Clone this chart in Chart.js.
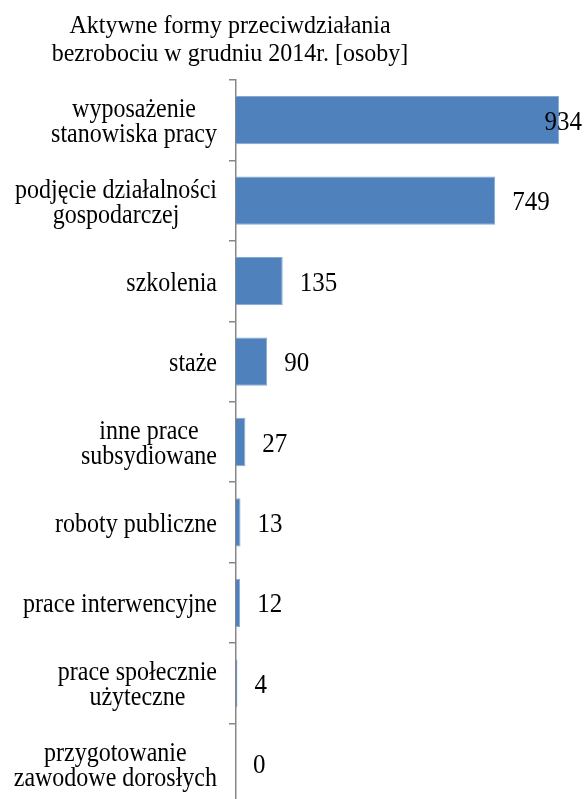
<!DOCTYPE html>
<html>
<head>
<meta charset="utf-8">
<script src="https://cdn.jsdelivr.net/npm/chart.js@4.4.1/dist/chart.umd.min.js"></script>
<style>
  html, body { margin: 0; padding: 0; background: #fff; overflow: hidden; }
  #wrap { width: 587px; height: 804px; position: relative; }
</style>
</head>
<body>
<div id="wrap"><canvas id="c"></canvas></div>
<script>
// ---------- data ----------
var titleLines = ['Aktywne formy przeciwdziałania', 'bezrobociu w grudniu 2014r. [osoby]'];
var categories = [
  ['wyposażenie', 'stanowiska pracy'],
  ['podjęcie działalności', 'gospodarczej'],
  ['szkolenia'],
  ['staże'],
  ['inne prace', 'subsydiowane'],
  ['roboty publiczne'],
  ['prace interwencyjne'],
  ['prace społecznie', 'użyteczne'],
  ['przygotowanie', 'zawodowe dorosłych']
];
var persons = [934, 749, 135, 90, 27, 13, 12, 4, 0];
var xMax = 1000;

// ---------- style ----------
var barColor = '#4F81BD';
var barEdge = '#86A8D4';
var axisColor = '#878787';
var serif = '"Liberation Serif", "Times New Roman", serif';

// text in the original is a bit taller than wide, so stretch it vertically
function tallText(ctx, txt, x, y, sy) {
  ctx.save();
  ctx.translate(x, y);
  ctx.scale(1, sy);
  ctx.fillText(txt, 0, 0);
  ctx.restore();
}

// title, category labels and value labels drawn on top of the chart
var textPlugin = {
  id: 'texts',
  afterDraw: function (chart) {
    var ctx = chart.ctx;
    var area = chart.chartArea;
    var yScale = chart.scales.y;
    ctx.save();
    ctx.fillStyle = '#000';
    ctx.textBaseline = 'alphabetic';

    // title (centred over the left part, as in the original)
    ctx.font = '24px ' + serif;
    ctx.textAlign = 'center';
    titleLines.forEach(function (t, i) {
      tallText(ctx, t, 230, 33 + i * 28, 1.04);
    });

    // category labels: lines centred with each other, block right aligned
    ctx.font = '24px ' + serif;
    var lineH = 25;
    var rightEdge = 217;
    categories.forEach(function (lines, i) {
      var yc = yScale.getPixelForTick(i);
      var maxW = 0;
      lines.forEach(function (l) { maxW = Math.max(maxW, ctx.measureText(l).width); });
      var xc = rightEdge - maxW / 2;
      var y0 = yc + 9.5 - (lines.length - 1) * lineH / 2;
      lines.forEach(function (l, j) {
        tallText(ctx, l, xc, y0 + j * lineH, 1.1);
      });
    });

    // value labels
    ctx.font = '25px ' + serif;
    ctx.textAlign = 'left';
    var meta = chart.getDatasetMeta(0);
    meta.data.forEach(function (bar, i) {
      var txt = String(persons[i]);
      var w = ctx.measureText(txt).width;
      var x = Math.min(bar.x + 17, area.right - w);
      tallText(ctx, txt, x, bar.y + 9.5, 1.06);
    });
    ctx.restore();
  }
};

new Chart(document.getElementById('c'), {
  type: 'bar',
  data: {
    labels: categories,
    datasets: [{
      data: persons,
      backgroundColor: barColor,
      borderColor: barEdge,
      borderWidth: 1,
      barPercentage: 0.6,
      categoryPercentage: 1
    }]
  },
  options: {
    indexAxis: 'y',
    responsive: true,
    maintainAspectRatio: false,
    animation: false,
    layout: { padding: { top: 80, right: 5, left: 0, bottom: 0 } },
    plugins: {
      legend: { display: false },
      title: { display: false },
      tooltip: { enabled: false }
    },
    scales: {
      x: { display: false, min: 0, max: xMax },
      y: {
        afterFit: function (scale) { scale.width = 236; },
        ticks: { display: false },
        grid: {
          drawOnChartArea: false,
          color: axisColor,
          lineWidth: 1.5,
          tickLength: 7
        },
        border: { color: axisColor, width: 1.5 }
      }
    }
  },
  plugins: [textPlugin]
});
</script>
</body>
</html>
